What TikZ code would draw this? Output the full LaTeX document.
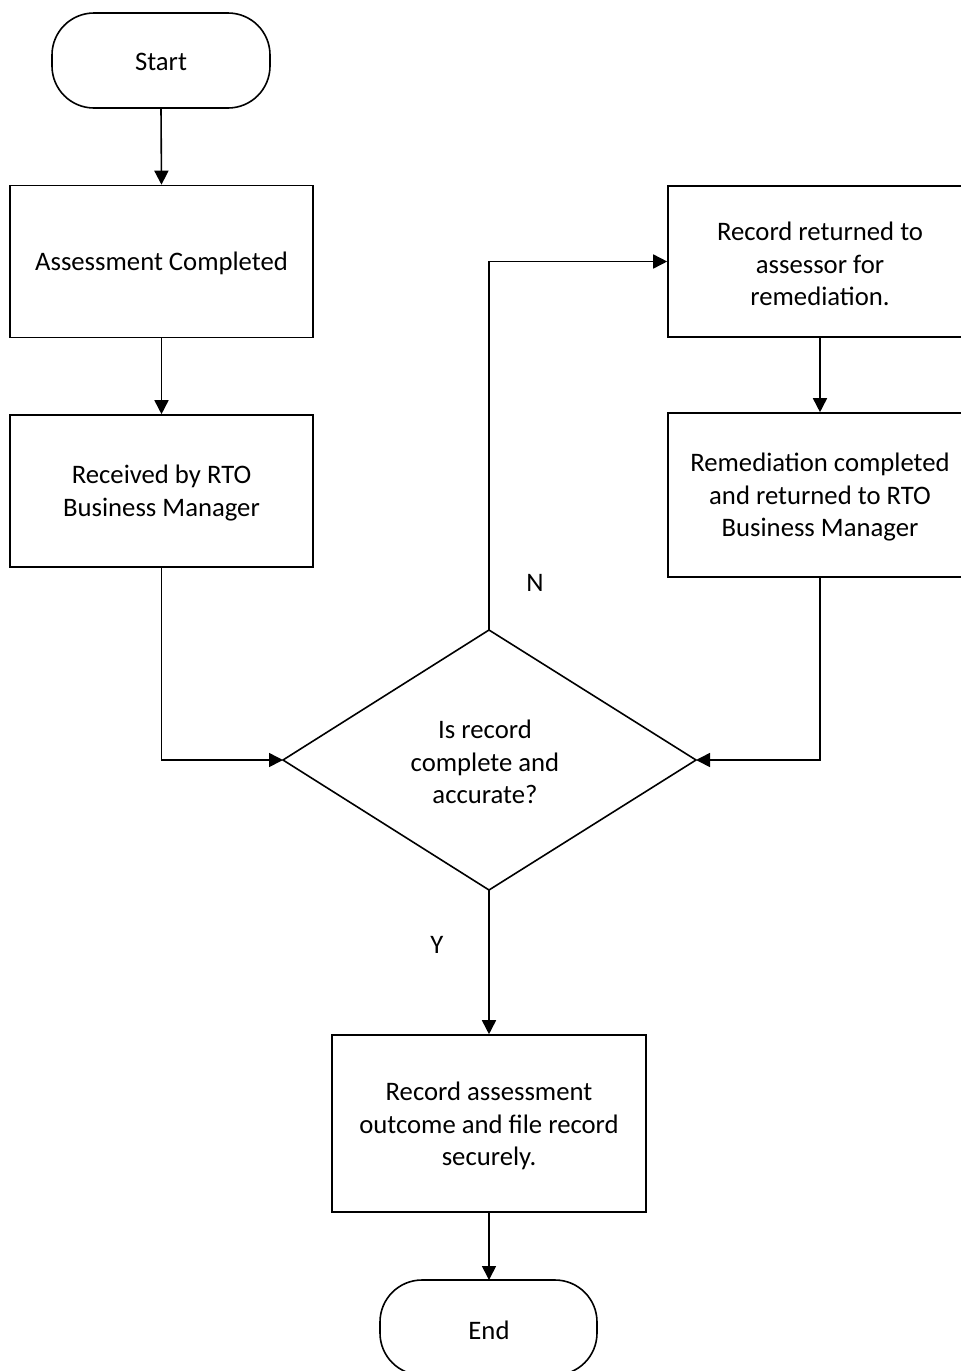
\documentclass[tikz,border=0pt]{standalone}
\usepackage{fontspec}
\setmainfont{Carlito}
\usetikzlibrary{arrows.meta,shapes.geometric}
\begin{document}
\begin{tikzpicture}[x=1pt,y=-1pt,
  line width=1.6pt,
  txt/.style={font=\fontsize{26.7}{32.5}\selectfont,align=center,inner sep=0pt},
  boxs/.style={draw,rectangle,inner sep=0pt},
  arr/.style={-{Triangle[length=14pt,width=14pt]}}]
\useasboundingbox (0,0) rectangle (961,1371);
\clip (0,0) rectangle (961,1371);
% terminators
\draw[rounded corners=42pt] (52,13) rectangle (270,108);
\node[txt] (start) at (161,62) {Start};
\coordinate (startb) at (161,108);
\draw[rounded corners=42pt] (380,1280) rectangle (597,1375);
\node[txt] (end) at (489,1330) {End};
\coordinate (endt) at (489,1280);
% boxes
\node[boxs,minimum width=303pt,minimum height=152pt] (b1) at (161.5,261.5) {};
\node[txt] (b1t) at ([yshift=-2pt]b1.center) {Assessment Completed};
\node[boxs,minimum width=303pt,minimum height=152pt] (b2) at (161.5,491) {};
\node[txt] (b2t) at ([yshift=-2pt]b2.center) {Received by RTO\\Business Manager};
\node[boxs,minimum width=304pt,minimum height=151pt] (b3) at (820,261.5) {};
\node[txt] (b3t) at ([yshift=-2.5pt]b3.center) {Record returned to\\assessor for\\remediation.};
\node[boxs,minimum width=304pt,minimum height=164pt] (b4) at (820,495) {};
\node[txt] (b4t) at ([yshift=-2.5pt]b4.center) {Remediation completed\\and returned to RTO\\Business Manager};
\node[boxs,minimum width=314pt,minimum height=177pt] (b5) at (489,1123.5) {};
\node[txt] (b5t) at ([yshift=-2.5pt]b5.center) {Record assessment\\outcome and file record\\securely.};
% diamond
\coordinate (dT) at (489,630);
\coordinate (dB) at (489,890);
\coordinate (dL) at (283,760);
\coordinate (dR) at (696,760);
\draw (dT) -- (dR) -- (dB) -- (dL) -- cycle;
\node[txt] (dec) at (485,762) {Is record\\complete and\\accurate?};
% connectors
\draw[arr] (startb) -- (b1.north);
\draw[arr] (b1.south) -- (b2.north);
\draw[arr] (b2.south) |- (dL);
\draw[arr] (dT) |- (b3.west);
\draw[arr] (b3.south) -- (b4.north);
\draw[arr] (b4.south) |- (dR);
\draw[arr] (dB) -- (b5.north);
\draw[arr] (b5.south) -- (endt);
% labels
\node[txt] (lN) at (535,583) {N};
\node[txt] (lY) at (437,945) {Y};
\end{tikzpicture}
\end{document}
